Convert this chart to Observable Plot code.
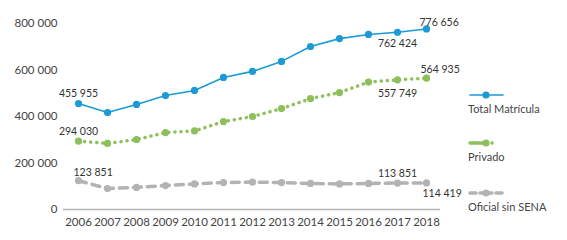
<!DOCTYPE html>
<html><head><meta charset="utf-8">
<script src="https://cdn.jsdelivr.net/npm/d3@7"></script>
<script src="https://cdn.jsdelivr.net/npm/@observablehq/plot@0.6"></script>
<style>
body{margin:0;background:#fff;font-family:Lato,"Open Sans",sans-serif;}
#wrap{position:relative;width:567px;height:240px;}
#legend{position:absolute;left:468px;top:0;font-size:11px;color:#444;}
.item{position:absolute;left:0;white-space:nowrap;}
.item svg{display:block;}
</style></head><body>
<div id="wrap"><div id="legend"></div></div>
<script>
const years = [2006,2007,2008,2009,2010,2011,2012,2013,2014,2015,2016,2017,2018];
const total = [455955,417000,452000,490000,512000,568000,594000,637000,701000,735000,753000,762424,776656];
const privado = [294030,284000,301000,331000,338000,378000,400000,434000,477000,503000,548000,557749,564935];
const oficial = [123851,90000,95000,103000,110000,116000,118000,116000,112000,110000,112000,113851,114419];
const seriesNames = ["Total Matrícula","Privado","Oficial sin SENA"];
const yTicks = [0,200000,400000,600000,800000];

const colors = {"Total Matrícula":"#1b9ad6","Privado":"#8dbf5b","Oficial sin SENA":"#b3b3b3"};
const dashes = {"Total Matrícula":null,"Privado":"0.1 6","Oficial sin SENA":"8 6"};
const widths = {"Total Matrícula":1.6,"Privado":3.5,"Oficial sin SENA":3.5};

const fmt = d3.formatLocale({decimal:",",thousands:" ",grouping:[3],currency:["",""]}).format(",d");

const rows = [];
[total,privado,oficial].forEach((arr,i)=>arr.forEach((v,j)=>rows.push({series:seriesNames[i],year:String(years[j]),value:v})));
const get = (s,y)=>rows.filter(d=>d.series===s && d.year===String(y));

const lineMarks = seriesNames.map(s=>Plot.line(rows.filter(d=>d.series===s),{x:"year",y:"value",stroke:colors[s],strokeWidth:widths[s],strokeDasharray:dashes[s],strokeLinecap:"round"}));
const dotMarks = seriesNames.map(s=>Plot.dot(rows.filter(d=>d.series===s),{x:"year",y:"value",r:3.6,fill:colors[s]}));

const textOpts = {x:"year",y:"value",text:d=>fmt(d.value),fontSize:10.5,fill:"#333"};
const labels = [
  Plot.text(get("Total Matrícula",2006),{...textOpts,dy:-10}),
  Plot.text(get("Total Matrícula",2017),{...textOpts,dy:11}),
  Plot.text(get("Total Matrícula",2018),{...textOpts,dy:-6,dx:-7,textAnchor:"start"}),
  Plot.text(get("Privado",2006),{...textOpts,dy:-10}),
  Plot.text(get("Privado",2017),{...textOpts,dy:14}),
  Plot.text(get("Privado",2018),{...textOpts,dy:-9,dx:-6,textAnchor:"start"}),
  Plot.text(get("Oficial sin SENA",2006),{...textOpts,dy:-8,dx:-5,textAnchor:"start"}),
  Plot.text(get("Oficial sin SENA",2017),{...textOpts,dy:-9}),
  Plot.text(get("Oficial sin SENA",2018),{...textOpts,dy:11,dx:-4,textAnchor:"start"})
];

const chart = Plot.plot({
  width:567,height:240,
  marginLeft:63,marginRight:127,marginTop:23,marginBottom:31,
  style:{fontFamily:"Lato, 'Open Sans', sans-serif",fontSize:"11.5px",color:"#444",background:"#fff"},
  x:{type:"point",domain:years.map(String),padding:0.5,label:null,tickSize:0,tickPadding:8},
  y:{domain:[0,800000],ticks:yTicks,tickFormat:fmt,label:null,tickSize:0,tickPadding:6},
  marks:[
    Plot.ruleY([0],{stroke:"#b5b5b5",strokeWidth:1.5}),
    ...lineMarks,
    ...dotMarks,
    ...labels
  ]
});
document.getElementById("wrap").prepend(chart);

const legend = document.getElementById("legend");
const legendTops = [89,137,187];
seriesNames.forEach((s,i)=>{
  const div = document.createElement("div");
  div.className="item";
  div.style.top = legendTops[i]+"px";
  const dash = dashes[s] ? `stroke-dasharray="${s==="Privado"?"14 8 0.1 20":"6 4 12 4 6 20"}"` : "";
  div.innerHTML = `<svg width="40" height="12"><line x1="2" y1="6" x2="${s==="Total Matrícula"?35:36}" y2="6" stroke="${colors[s]}" stroke-width="${widths[s]}" stroke-linecap="round" ${dash}/><circle cx="18" cy="6" r="3.6" fill="${colors[s]}"/></svg><div style="margin-top:1px">${s}</div>`;
  legend.appendChild(div);
});
</script>
</body></html>
